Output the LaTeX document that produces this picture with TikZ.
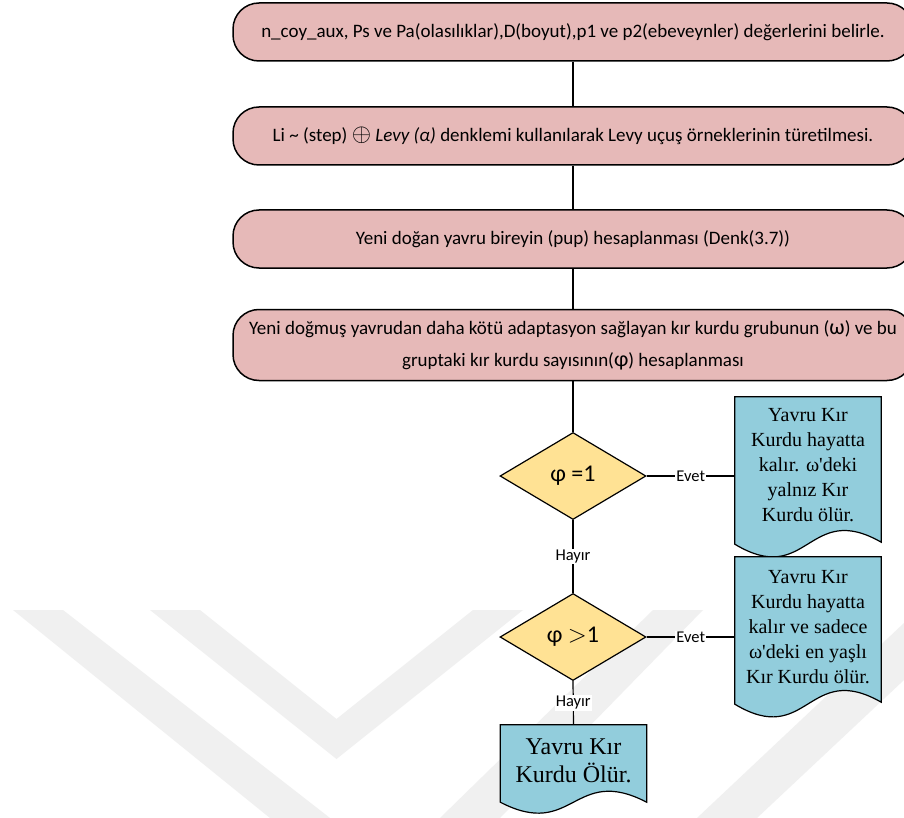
\documentclass[tikz,border=0pt]{standalone}
\usepackage{fontspec}
\setmainfont{Liberation Serif}[Ligatures=TeXOff]
\newfontfamily\calfont{Carlito}
\usetikzlibrary{shapes.geometric,calc}
\definecolor{boxred}{HTML}{E6B9B8}
\definecolor{docblue}{HTML}{92CDDC}
\definecolor{diayel}{HTML}{FFE294}
\definecolor{wmgray}{HTML}{F0F0F0}
\pgfdeclarelayer{wm}
\pgfdeclarelayer{bg}
\pgfsetlayers{wm,bg,main}
% #1 node, #2 right end rise, #3 wave control, #4 extension below node
\newcommand\docpath[4]{%
  \path[docshape] (#1.north west) -- (#1.north east) -- ($(#1.south east)+(0,#4-#2)$)
    .. controls ($(#1.south)+(0,#4-#3)$) and ($(#1.south)+(0,#4+#3)$) .. ($(#1.south west)+(0,#4)$) -- cycle;}
\begin{document}
\begin{tikzpicture}[x=1pt,y=-1pt,
  procbox/.style={draw=black,line width=1.5pt,fill=boxred,rounded corners=26pt,
    minimum width=680pt,minimum height=58pt,inner sep=0pt,align=center,
    font=\calfont\fontsize{19}{22}\selectfont},
  decbox/.style={draw=black,line width=1.2pt,fill=diayel,diamond,aspect=1.68,
    minimum width=146pt,minimum height=87pt,inner sep=0pt,
    font=\calfont\fontsize{24}{28}\selectfont},
  docbox/.style={minimum width=146pt,inner sep=0pt,align=center,
    font=\fontsize{20}{25}\selectfont},
  docshape/.style={draw=black,line width=1.2pt,fill=docblue},
  conn/.style={draw=black,line width=1.2pt},
  lbl/.style={fill=white,inner sep=1pt,font=\calfont\fontsize{16.5}{19}\selectfont},
  wm/.style={fill=wmgray}]
\useasboundingbox (0,0) rectangle (904,818);
\begin{pgfonlayer}{wm}
  \fill[white] (0,0) rectangle (904,818);
  \fill[wm] (13,610) -- (63,610) -- (330,818) -- (270,818) -- cycle;
  \fill[wm] (150,610) -- (200,610) -- (336.5,719) -- (473,610) -- (523,610) -- (336.5,759) -- cycle;
  \fill[wm] (653,610) -- (703,610) -- (500,818) -- (440,818) -- cycle;
  \fill[wm] (904,623) -- (904,680) -- (757,818) -- (697,818) -- cycle;
\end{pgfonlayer}

\node[procbox] (b1) at (573,32) {n\_coy\_aux, Ps ve Pa(olasılıklar),D(boyut),p1 ve p2(ebeveynler) değerlerini belirle.};
\node[procbox] (b2) at (573,136) {Li \textasciitilde{} (step) {\fontsize{25}{22}\selectfont$\oplus$} \textit{Levy (α)} denklemi kullanılarak Levy uçuş örneklerinin türetilmesi.};
\node[procbox] (b3) at (573,239) {Yeni doğan yavru bireyin (pup) hesaplanması (Denk(3.7))};
\node[procbox,minimum height=71pt,font=\calfont\fontsize{19}{32}\selectfont] (b4) at (573,345)
  {Yeni doğmuş yavrudan daha kötü adaptasyon sağlayan kır kurdu grubunun ({\fontsize{22}{32}\selectfont ω}) ve bu\\gruptaki kır kurdu sayısının({\fontsize{22}{32}\selectfont φ}) hesaplanması};

\node[decbox] (d1) at (573,476) {φ =1};
\node[decbox] (d2) at (573,637) {φ {\fontfamily{lmr}\selectfont$>$}1};

\node[docbox,minimum height=136pt] (c1) at (808,465) {Yavru Kır\\Kurdu hayatta\\kalır. ω'deki\\yalnız Kır\\Kurdu ölür.};
\node[docbox,minimum height=140pt] (c2) at (808,627) {Yavru Kır\\Kurdu hayatta\\kalır ve sadece\\ω'deki en yaşlı\\Kır Kurdu ölür.};
\node[docbox,minimum height=72pt,font=\fontsize{24}{28}\selectfont] (c3) at (573.5,761) {Yavru Kır\\Kurdu Ölür.};

\begin{pgfonlayer}{bg}
  \docpath{c1}{2}{44}{11}
  \docpath{c2}{2}{44}{7}
  \docpath{c3}{0}{38}{5}
\end{pgfonlayer}

\draw[conn] (b1.south -| d1.north) -- (b2.north -| d1.north);
\draw[conn] (b2.south -| d1.north) -- (b3.north -| d1.north);
\draw[conn] (b3.south -| d1.north) -- (b4.north -| d1.north);
\draw[conn] (b4.south -| d1.north) -- (d1.north);
\draw[conn] (d1.east) -- node[lbl] {Evet} (d1.east -| c1.west);
\draw[conn] (d2.east) -- node[lbl] {Evet} (d2.east -| c2.west);
\draw[conn] (d1.south) -- node[lbl] {Hayır} (d2.north);
\draw[conn] (d2.south) -- node[lbl] {Hayır} (c3.north);
\end{tikzpicture}
\end{document}
